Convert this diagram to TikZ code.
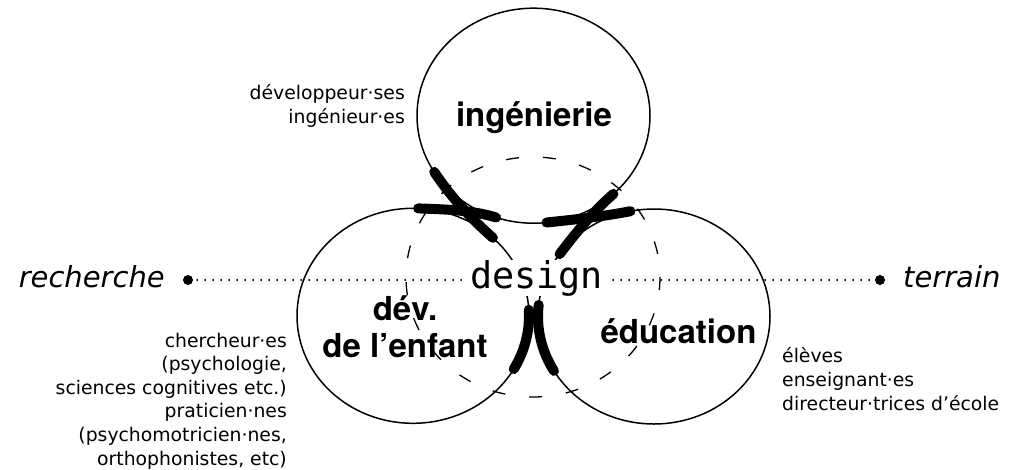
\documentclass[tikz,border=0pt]{standalone}
\usepackage{fontspec}
\setmainfont{DejaVu Sans}
\newfontfamily\headfont{TeX Gyre Heros}
\newfontfamily\monofont{DejaVu Sans Mono}
\usetikzlibrary{positioning}

\begin{document}
\begin{tikzpicture}[
    x=1pt, y=-1pt,
    ring/.style={line width=1.5pt},
    hiddenring/.style={line width=1.3pt, dash pattern=on 13pt off 24pt},
    bridge/.style={line width=10pt, line cap=round},
    field/.style={font=\headfont\bfseries\fontsize{33}{37}\selectfont, align=center, inner sep=0pt},
    people/.style={font=\fontsize{18.8}{23.6}\selectfont, inner sep=0pt},
    pole/.style={font=\itshape\fontsize{29}{35}\selectfont, inner sep=0pt},
    dotline/.style={line width=2.2pt, line cap=round, dash pattern=on 0pt off 8pt, dash phase=4pt},
    endpoint/.style={circle, fill, inner sep=0pt, minimum size=10pt}
]
\useasboundingbox (0,0) rectangle (1010,469);

% centres of the three fields and of the dashed one
\coordinate (ing) at (533.5,115.7);
\coordinate (dev) at (413,315.8);
\coordinate (edu) at (654,316.5);
\coordinate (mid) at (533,277);

\draw[hiddenring] (mid) ellipse [x radius=127, y radius=120];
\draw[ring] (ing) ellipse [x radius=116.5, y radius=107.5];
\draw[ring] (dev) ellipse [x radius=116, y radius=107.5];
\draw[ring] (edu) ellipse [x radius=116, y radius=107.5];

% axis recherche -- terrain
\node[endpoint] (rechdot) at (188,280) {};
\node[endpoint] (terrdot) at (880,280) {};
\draw[dotline] (rechdot) -- (terrdot);
\node[pole, anchor=base east] (rech) at (165,287) {recherche};
\node[pole, anchor=base west] (terr) at (903,287) {terrain};

\node[anchor=base, fill=white, inner xsep=8pt, inner ysep=0pt, font=\monofont\fontsize{36.8}{40}\selectfont] (design) at (536.5,288) {design};

% where the fields meet: crossing bridges
\coordinate (ingA) at (434.2,171.9);
\coordinate (ingB) at (496.1,217.5);
\coordinate (ingC) at (546.5,222.5);
\coordinate (ingD) at (613.4,193.9);
\coordinate (devA) at (418.1,208.4);
\coordinate (devB) at (492.9,237.8);
\coordinate (eduA) at (630.5,211.2);
\coordinate (eduB) at (559.6,254.1);

\draw[bridge] (ingA) .. controls (450.8,196.9) and (470.4,218.0) .. (devB);
\draw[bridge] (devA) .. controls (444.1,209.4) and (471.3,209.8) .. (ingB);
\draw[bridge] (ingC) .. controls (574.4,219.6) and (603.0,216.5) .. (eduA);
\draw[bridge] (eduB) .. controls (576.1,232.7) and (593.0,211.6) .. (ingD);
\draw[bridge] (dev) ++(-3.2:116 and 107.5) arc [start angle=-3.2, end angle=29.7, x radius=116, y radius=107.5];
\draw[bridge] (edu) ++(-173.8:116 and 107.5) arc [start angle=-173.8, end angle=-210.4, x radius=116, y radius=107.5];

% field names
\node[field, anchor=base] (inglabel) at (534,126) {ingénierie};
\node[field, anchor=base] (devlabel) at (405,357) {dév.\\de l’enfant};
\node[field, anchor=base] (edulabel) at (678.5,343) {éducation};

% who is in each field
\node[people, anchor=base east, align=right] (ingpeople) at (405,123) {développeur·ses\\ingénieur·es};
\node[people, anchor=base east, align=right] (devpeople) at (287,465) {chercheur·es\\(psychologie,\\sciences cognitives etc.)\\praticien·nes\\(psychomotricien·nes,\\orthophonistes, etc)};
\node[people, anchor=base west, align=left] (edupeople) at (782,410) {élèves\\enseignant·es\\directeur·trices d’école};
\end{tikzpicture}
\end{document}
